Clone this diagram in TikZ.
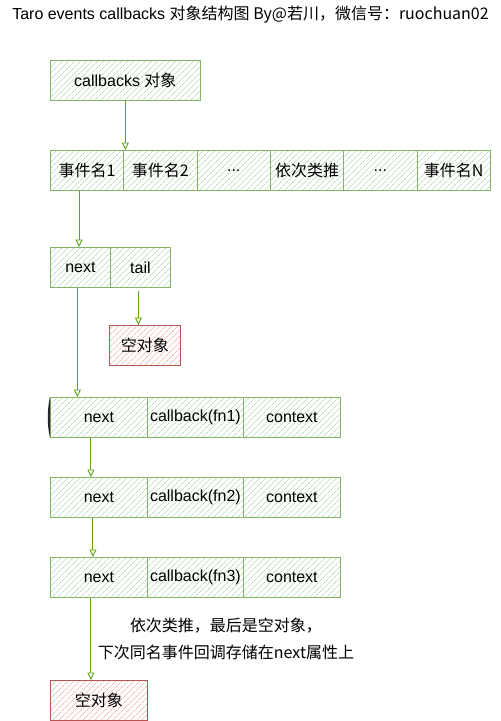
\documentclass[tikz,border=0pt]{standalone}
\usepackage{fontspec}
\setmainfont{Liberation Sans}
\newfontfamily\cjk{Noto Sans CJK SC}
\usetikzlibrary{arrows.meta,patterns.meta,calc}
\definecolor{gstroke}{HTML}{82B366}
\definecolor{ghatch}{HTML}{BEDDB8}
\definecolor{rstroke}{HTML}{B85450}
\definecolor{rhatch}{HTML}{F0B8B5}
\definecolor{arrc}{HTML}{5BA31A}
\begin{document}
\begin{tikzpicture}[x=1pt,y=-1pt,
  basebox/.style={line width=0.8pt, preaction={fill=white}, minimum height=40pt, inner sep=0pt, anchor=north west, font=\fontsize{16}{19}\selectfont},
  gbox/.style={basebox, draw=gstroke, pattern={Lines[angle=45,distance=4pt,line width=0.7pt]}, pattern color=ghatch},
  rbox/.style={basebox, draw=rstroke, pattern={Lines[angle=45,distance=4pt,line width=0.7pt]}, pattern color=rhatch},
  arr/.style={draw=arrc, line width=0.9pt, -{Triangle[open,length=7.5pt,width=7pt]}},
]
\useasboundingbox (0,0) rectangle (501,721);
\node[font=\fontsize{16}{19}\selectfont] (title) at (250.5,15) {Taro events callbacks \cjk{对象结构图} By@\cjk{若川，微信号：}ruochuan02};

\node[gbox, minimum width=150pt] (cb) at (50,60) {callbacks \cjk{对象}};

\node[gbox, minimum width=73.33pt] (e1) at (50,150) {\cjk{事件名}1};
\node[gbox, minimum width=73.33pt] (e2) at (123.33,150) {\cjk{事件名}2};
\node[gbox, minimum width=73.33pt] (e3) at (196.67,150) {...};
\node[gbox, minimum width=73.33pt] (e4) at (270,150) {\cjk{依次类推}};
\node[gbox, minimum width=73.33pt] (e5) at (343.33,150) {...};
\node[gbox, minimum width=73.33pt] (e6) at (416.67,150) {\cjk{事件名}N};

\node[gbox, minimum width=60pt] (n1) at (50,247) {next};
\node[gbox, minimum width=60pt] (n2) at (110,247) {tail};

\node[rbox, minimum width=71pt] (k1) at (109,325) {\cjk{空对象}};

\node[gbox, minimum width=97pt] (r1a) at (50,397) {next};
\node[gbox, minimum width=96pt] (r1b) at (147,397) {callback(fn1)};
\node[gbox, minimum width=97pt] (r1c) at (243,397) {context};

\node[gbox, minimum width=97pt] (r2a) at (50,477) {next};
\node[gbox, minimum width=96pt] (r2b) at (147,477) {callback(fn2)};
\node[gbox, minimum width=97pt] (r2c) at (243,477) {context};

\node[gbox, minimum width=97pt] (r3a) at (50,557) {next};
\node[gbox, minimum width=96pt] (r3b) at (147,557) {callback(fn3)};
\node[gbox, minimum width=97pt] (r3c) at (243,557) {context};

\node[rbox, minimum width=97pt] (k2) at (50,680) {\cjk{空对象}};

\fill[black!85] (r1a.north west) .. controls ($(r1a.north west)+(-3,12)$) and ($(r1a.south west)+(-3,-12)$) .. (r1a.south west) -- cycle;

\node[align=center, font=\fontsize{16}{27}\selectfont] (note) at (226,639) {\cjk{依次类推，最后是空对象，}\\\cjk{下次同名事件回调存储在}next\cjk{属性上}};

\draw[arr] (cb.south) -- (cb.south |- e1.north);
\draw[arr] ([xshift=-8pt]e1.south) -- ([xshift=-8pt]e1.south |- n1.north);
\draw[arr] ([xshift=-3pt]n1.south) -- ([xshift=-3pt]n1.south |- r1a.north);
\draw[arr, shorten <=3pt] ([xshift=-2pt]n2.south) -- ([xshift=-2pt]n2.south |- k1.north);
\draw[arr] ([xshift=-8pt]r1a.south) -- ([xshift=-8pt]r1a.south |- r2a.north);
\draw[arr] ([xshift=-6pt]r2a.south) -- ([xshift=-6pt]r2a.south |- r3a.north);
\draw[arr] ([xshift=-8pt]r3a.south) -- ([xshift=-8pt]r3a.south |- k2.north);
\end{tikzpicture}
\end{document}
